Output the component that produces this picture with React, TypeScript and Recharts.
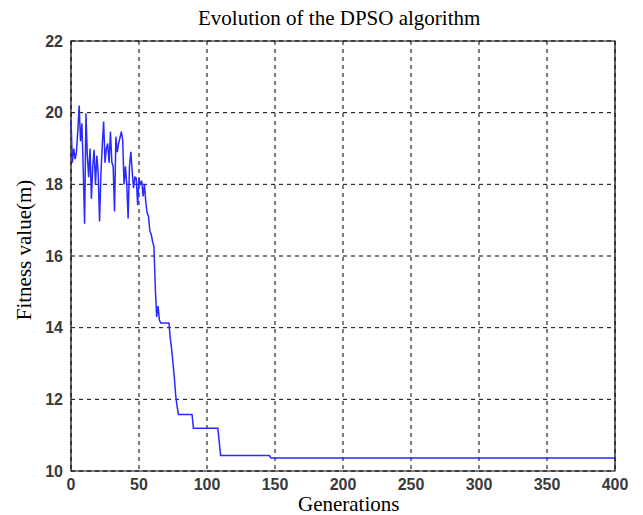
import { LineChart, Line, XAxis, YAxis, CartesianGrid, ReferenceArea } from 'recharts';

// generation numbers and best fitness
const generations = [
  0, 1, 2, 3, 4, 5, 6, 7, 8, 9, 10, 11, 12, 13, 14, 15, 16, 17, 18, 19,
  20, 21, 22, 23, 24, 25, 26, 27, 28, 29, 30, 31, 32, 33, 34, 35, 36, 37, 38, 39,
  40, 41, 42, 43, 44, 45, 46, 47, 48, 49, 50, 51, 52, 53, 54, 55, 56, 57, 58, 59,
  60, 61, 62, 63, 64, 65, 66, 72, 73, 74, 75, 76, 77, 78, 79, 89, 90, 108, 109, 110,
  146, 147, 400,
];

const fitness = [
  19.8, 18.6, 19.0, 18.7, 18.9, 19.5, 20.2, 19.2, 19.7, 18.4, 16.9, 19.98, 18.8, 18.2, 19.0, 17.6, 18.5, 18.96, 18.0, 18.8,
  18.3, 16.96, 18.3, 19.1, 19.75, 18.6, 19.0, 19.14, 18.6, 19.47, 18.63, 18.5, 17.24, 19.33, 18.9, 19.14, 19.3, 19.47, 19.24, 18.0,
  18.5, 18.0, 17.05, 18.5, 18.91, 18.35, 17.89, 18.2, 18.17, 17.42, 18.17, 17.98, 18.1, 17.66, 18.0, 17.5, 17.2, 17.1, 16.7, 16.6,
  16.4, 16.26, 15.1, 14.3, 14.6, 14.21, 14.13, 14.13, 13.7, 13.4, 13.0, 12.6, 12.1, 11.8, 11.58, 11.58, 11.19, 11.19, 10.8, 10.43,
  10.43, 10.36, 10.36,
];

const xTicks = [0, 50, 100, 150, 200, 250, 300, 350, 400];
const yTicks = [10, 12, 14, 16, 18, 20, 22];

const data = generations.map((g, i) => ({ gen: g, value: fitness[i] }));

const serif = '"Liberation Serif", "Times New Roman", serif';
const tickStyle = { fontFamily: '"Liberation Sans", Arial, sans-serif', fontSize: 16, fontWeight: 700, fill: '#3a3a3a' };

const App = () => {
  return (
    <div style={{ position: 'absolute', left: 0, top: 0, width: 643, height: 515, background: '#fff' }}>
      <LineChart
        width={643}
        height={515}
        data={data}
        margin={{ top: 41, right: 28, bottom: 0, left: 0 }}
      >
        <CartesianGrid stroke="#000" strokeDasharray="4 4" strokeWidth={1} />
        <XAxis
          dataKey="gen"
          type="number"
          domain={[0, 400]}
          ticks={xTicks}
          height={44}
          tickLine={false}
          axisLine={false}
          tick={tickStyle}
          interval={0}
        />
        <YAxis
          type="number"
          domain={[10, 22]}
          ticks={yTicks}
          width={71}
          tickLine={false}
          axisLine={false}
          tick={tickStyle}
          interval={0}
        />
        <ReferenceArea x1={0} x2={400} y1={10} y2={22} fill="none" stroke="#000" strokeWidth={1.2} ifOverflow="visible" />
        <Line
          type="linear"
          dataKey="value"
          stroke="#2a2aff"
          strokeWidth={1.5}
          dot={false}
          isAnimationActive={false}
        />
      </LineChart>
      <div style={{ position: 'absolute', top: 6, left: 198, whiteSpace: 'nowrap', fontFamily: serif, fontSize: 21, lineHeight: '24px', color: '#000' }}>
        Evolution of the DPSO algorithm
      </div>
      <div style={{ position: 'absolute', top: 492, left: 298, whiteSpace: 'nowrap', fontFamily: serif, fontSize: 21, lineHeight: '24px', color: '#000' }}>
        Generations
      </div>
      <div
        style={{
          position: 'absolute',
          left: 24,
          top: 250,
          transform: 'translate(-50%, -50%) rotate(-90deg)',
          whiteSpace: 'nowrap',
          fontFamily: serif,
          fontSize: 21,
          lineHeight: '24px',
          color: '#000',
        }}
      >
        Fitness value(m)
      </div>
    </div>
  );
};

export default App;
